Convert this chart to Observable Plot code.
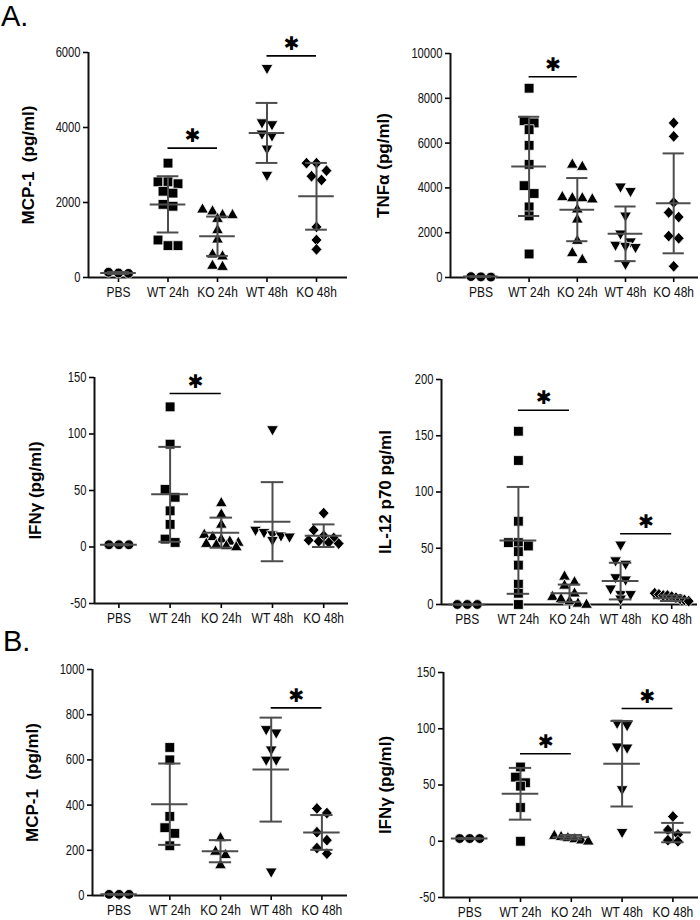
<!DOCTYPE html>
<html>
<head>
<meta charset="utf-8">
<script src="https://cdn.jsdelivr.net/npm/d3@7"></script>
<script src="https://cdn.jsdelivr.net/npm/@observablehq/plot@0.6"></script>
<style>
  html, body { margin: 0; padding: 0; background: #fff; }
  #root { position: relative; width: 700px; height: 920px; overflow: hidden; background: #fff; }
  #root svg { position: absolute; overflow: visible; }
  .tag { position: absolute; font-family: "Liberation Sans", Arial, sans-serif; font-size: 29px; line-height: 33px; color: #000; }
</style>
</head>
<body>
<div id="root">
  <div class="tag" style="left:1px;top:0px">A.</div>
  <div class="tag" style="left:3px;top:625px">B.</div>
</div>
<script>
// ---------- categories ----------
const groups = ["PBS", "WT 24h", "KO 24h", "WT 48h", "KO 48h"];

// ---------- A. MCP-1 (pg/ml) ----------
const mcp1A_label = "MCP-1  (pg/ml)";
const mcp1A_domain = [0, 6000];
const mcp1A_ticks = [0, 2000, 4000, 6000];
const mcp1A_values = [
  [140, 110, 120],
  [3050, 2550, 2550, 2500, 2300, 2250, 1950, 1900, 1000, 850, 850],
  [1850, 1800, 1700, 1700, 1600, 1300, 1050, 650, 600, 350, 320],
  [5550, 4100, 4050, 3800, 3750, 3400, 2700],
  [3050, 3050, 2850, 2700, 2600, 1350, 1000, 750]
];
const mcp1A_mean = [120, 1950, 1100, 3855, 2165];
const mcp1A_sd = [25, 750, 525, 800, 890];
const mcp1A_sig = [[1, 2, 3450], [3, 4, 5910]];

// ---------- A. TNFα (pg/ml) ----------
const tnfA_label = "TNFα (pg/ml)";
const tnfA_domain = [0, 10000];
const tnfA_ticks = [0, 2000, 4000, 6000, 8000, 10000];
const tnfA_values = [
  [40, 30, 20],
  [8450, 7000, 6900, 6600, 5900, 5050, 4100, 3750, 3150, 2750, 1050],
  [5100, 5000, 3650, 3600, 3600, 3550, 3100, 2650, 1700, 1150, 850],
  [4000, 3800, 2700, 1900, 1550, 1400, 1350, 1300, 550],
  [6900, 6300, 3350, 2900, 2700, 1850, 1750, 500]
];
const tnfA_mean = [40, 4960, 3030, 1950, 3310];
const tnfA_sd = [15, 2215, 1410, 1220, 2230];
const tnfA_sig = [[1, 2, 8960]];

// ---------- A. IFNγ (pg/ml) ----------
const ifnA_label = "IFNγ (pg/ml)";
const ifnA_domain = [-50, 150];
const ifnA_ticks = [-50, 0, 50, 100, 150];
const ifnA_values = [
  [2, 2, 2],
  [124, 91, 51, 44, 32, 20, 7, 4],
  [40, 30, 21, 12, 10, 8, 6, 5, 4, 3, 2, 1],
  [103, 14, 12, 10, 9, 8, 5],
  [30, 15, 10, 8, 6, 5, 4, 3]
];
const ifnA_mean = [2, 46.6, 12.7, 22.4, 10];
const ifnA_sd = [0.5, 42, 13.3, 35, 10];
const ifnA_sig = [[1, 2, 135.8]];

// ---------- A. IL-12 p70 pg/ml ----------
const il12A_label = "IL-12 p70 pg/ml";
const il12A_domain = [0, 200];
const il12A_ticks = [0, 50, 100, 150, 200];
const il12A_values = [
  [0, 0, 0],
  [154, 128, 74, 55, 55, 52, 47, 35, 18, 10, 0],
  [26, 21, 18, 11, 8, 6, 4, 2, 1],
  [52, 38, 35, 23, 21, 13, 8, 8, 4],
  [10, 9, 8, 8, 7, 6, 5, 4, 3]
];
const il12A_mean = [0, 57, 10, 20.8, 5.6];
const il12A_sd = [0, 47.5, 7.7, 16.3, 2.5];
const il12A_sig = [[1, 2, 172.7], [3, 4, 62.9]];

// ---------- B. MCP-1 (pg/ml) ----------
const mcp1B_label = "MCP-1  (pg/ml)";
const mcp1B_domain = [0, 1000];
const mcp1B_ticks = [0, 200, 400, 600, 800, 1000];
const mcp1B_values = [
  [5, 5, 5],
  [655, 600, 350, 300, 275, 220],
  [260, 200, 185, 140],
  [730, 715, 640, 595, 595, 100],
  [385, 365, 280, 245, 210, 185]
];
const mcp1B_mean = [5, 404, 196, 557, 279];
const mcp1B_sd = [2, 180, 49, 230, 77];
const mcp1B_sig = [[3, 4, 830]];

// ---------- B. IFNγ (pg/ml) ----------
const ifnB_label = "IFNγ (pg/ml)";
const ifnB_domain = [-50, 150];
const ifnB_ticks = [-50, 0, 50, 100, 150];
const ifnB_values = [
  [2.4, 2.4, 2.4],
  [66, 57, 52, 49, 30, 0],
  [6, 5, 4, 3, 2, 1],
  [104, 102, 83, 82, 45, 7],
  [22, 10, 6, 1, 0]
];
const ifnB_mean = [2.4, 42.2, 3.6, 68.9, 7.7];
const ifnB_sd = [0.5, 23, 2, 38, 8.6];
const ifnB_sig = [[1, 2, 77.8], [3, 4, 118]];

// ---------- layout (page pixel geometry, not data) ----------
const layout = [
  {left: 0,   top: 30,  height: 290, axisX: 88,  cat0: 118,   step: 49.5, right: 347, yTopPx: 52,  yBotPx: 277, labelX: 28},
  {left: 350, top: 30,  height: 290, axisX: 450, cat0: 480.4, step: 48.2, right: 698, yTopPx: 53,  yBotPx: 277, labelX: 383},
  {left: 0,   top: 330, height: 310, axisX: 94,  cat0: 118.4, step: 51.2, right: 348, yTopPx: 377, yBotPx: 603, labelX: 35},
  {left: 350, top: 330, height: 310, axisX: 441, cat0: 466.8, step: 51.1, right: 697, yTopPx: 379, yBotPx: 604, labelX: 385},
  {left: 0,   top: 640, height: 280, axisX: 92,  cat0: 118.6, step: 50.7, right: 347, yTopPx: 669, yBotPx: 895, labelX: 32},
  {left: 350, top: 640, height: 280, axisX: 443, cat0: 469.2, step: 50.8, right: 698, yTopPx: 672, yBotPx: 897, labelX: 385}
];

const panels = [
  {label: mcp1A_label, domain: mcp1A_domain, ticks: mcp1A_ticks, values: mcp1A_values, mean: mcp1A_mean, sd: mcp1A_sd, sig: mcp1A_sig},
  {label: tnfA_label,  domain: tnfA_domain,  ticks: tnfA_ticks,  values: tnfA_values,  mean: tnfA_mean,  sd: tnfA_sd,  sig: tnfA_sig},
  {label: ifnA_label,  domain: ifnA_domain,  ticks: ifnA_ticks,  values: ifnA_values,  mean: ifnA_mean,  sd: ifnA_sd,  sig: ifnA_sig},
  {label: il12A_label, domain: il12A_domain, ticks: il12A_ticks, values: il12A_values, mean: il12A_mean, sd: il12A_sd, sig: il12A_sig},
  {label: mcp1B_label, domain: mcp1B_domain, ticks: mcp1B_ticks, values: mcp1B_values, mean: mcp1B_mean, sd: mcp1B_sd, sig: mcp1B_sig},
  {label: ifnB_label,  domain: ifnB_domain,  ticks: ifnB_ticks,  values: ifnB_values,  mean: ifnB_mean,  sd: ifnB_sd,  sig: ifnB_sig}
];

// ---------- symbols ----------
const rad = size => Math.sqrt(size / Math.PI);
const symSquare = {draw(c, s) { const r = rad(s); c.rect(-r, -r, 2 * r, 2 * r); }};
const symTriUp = {draw(c, s) { const r = rad(s); c.moveTo(0, -1.1 * r); c.lineTo(1.2 * r, 1.0 * r); c.lineTo(-1.2 * r, 1.0 * r); c.closePath(); }};
const symTriDown = {draw(c, s) { const r = rad(s); c.moveTo(0, 1.1 * r); c.lineTo(1.2 * r, -1.0 * r); c.lineTo(-1.2 * r, -1.0 * r); c.closePath(); }};
const symDiamond = {draw(c, s) { const r = rad(s); c.moveTo(0, -1.2 * r); c.lineTo(1.1 * r, 0); c.lineTo(0, 1.2 * r); c.lineTo(-1.1 * r, 0); c.closePath(); }};
const shapes = ["circle", symSquare, symTriUp, symTriDown, symDiamond];

const TICKFONT = "'Liberation Sans', Arial, sans-serif";
const BOLD = "'Liberation Sans', Arial, sans-serif";
const DOT = 10;      // marker footprint in px
const R = 4.9;
const LINE = "#4d4d4d";

function makePanel(cfg, d) {
  const W = 350;
  const mL = cfg.axisX - cfg.left, mR = cfg.left + W - cfg.right;
  const mT = cfg.yTopPx - cfg.top, mB = cfg.top + cfg.height - cfg.yBotPx;
  const xmin = (cfg.axisX - cfg.cat0) / cfg.step, xmax = (cfg.right - cfg.cat0) / cfg.step;
  const [ymin, ymax] = d.domain;
  const pxPerUnit = (cfg.yBotPx - cfg.yTopPx) / (ymax - ymin);

  // deterministic column scatter: values close in height are spread side by side
  const points = [];
  d.values.forEach((vals, gi) => {
    const sorted = vals.slice().sort((a, b) => b - a);
    const rows = [];
    let cur = null;
    for (const v of sorted) {
      if (cur && (cur.start - v) * pxPerUnit < 0.8 * DOT) cur.items.push(v);
      else { cur = {start: v, items: [v]}; rows.push(cur); }
    }
    for (const row of rows) {
      const n = row.items.length;
      const sp = n > 1 ? Math.min(DOT, 34 / (n - 1)) : 0;
      row.items.forEach((v, k) => points.push({g: gi, v, x: gi + ((k - (n - 1) / 2) * sp) / cfg.step}));
    }
  });

  const stats = d.mean.map((m, i) => ({i, mean: m, sd: d.sd[i]}));

  const svg = Plot.plot({
    width: W,
    height: cfg.height,
    marginLeft: mL, marginRight: mR, marginTop: mT, marginBottom: mB,
    x: {domain: [xmin, xmax], axis: null},
    y: {domain: [ymin, ymax], axis: null},
    style: {background: "transparent", color: "#000", overflow: "visible"},
    marks: [
      Plot.axisY({ticks: d.ticks, tickSize: 5, tickPadding: 3, tickFormat: v => String(v), label: null,
                  fontSize: 14, fontFamily: TICKFONT, fill: "#111", strokeWidth: 1.6}),
      Plot.axisX({ticks: [0, 1, 2, 3, 4], tickSize: 5, tickPadding: 4, tickFormat: i => groups[i], label: null,
                  fontSize: 15, fontFamily: TICKFONT, fill: "#111", strokeWidth: 1.6}),
      Plot.ruleX([xmin], {y1: ymin, y2: ymax, strokeWidth: 2, stroke: "#111"}),
      Plot.ruleY([ymin], {x1: xmin, x2: xmax, strokeWidth: 2, stroke: "#111"}),
      ...groups.map((g, gi) => Plot.dot(points.filter(p => p.g === gi), {
        x: "x", y: "v", r: R, symbol: shapes[gi], fill: "#000", stroke: "#fff", strokeWidth: 0.8
      })),
      Plot.ruleY(stats, {y: "mean", x1: s => s.i - 0.36, x2: s => s.i + 0.36, stroke: LINE, strokeWidth: 2}),
      Plot.ruleX(stats, {x: "i", y1: s => s.mean - s.sd, y2: s => s.mean + s.sd, stroke: LINE, strokeWidth: 2}),
      Plot.ruleY(stats, {y: s => s.mean + s.sd, x1: s => s.i - 0.22, x2: s => s.i + 0.22, stroke: LINE, strokeWidth: 2}),
      Plot.ruleY(stats, {y: s => s.mean - s.sd, x1: s => s.i - 0.22, x2: s => s.i + 0.22, stroke: LINE, strokeWidth: 2}),
      Plot.ruleY(d.sig, {y: s => s[2], x1: s => s[0], x2: s => s[1], stroke: "#000", strokeWidth: 1.6}),
      Plot.text(d.sig, {x: s => (s[0] + s[1]) / 2, y: s => s[2], text: () => "✱", dy: -12,
                        fontSize: 19, fontFamily: "'DejaVu Sans', sans-serif", fill: "#000"}),
      Plot.text([d.label], {text: t => t, frameAnchor: "left", textAnchor: "middle", dx: cfg.labelX - cfg.axisX, rotate: -90,
                            fontSize: 17, fontWeight: "bold", fontFamily: BOLD, fill: "#000"})
    ]
  });
  svg.style.left = cfg.left + "px";
  svg.style.top = cfg.top + "px";
  return svg;
}

// narrow the tick labels (the reference uses a condensed face)
function condense(svg, factor) {
  svg.querySelectorAll('g[aria-label="x-axis tick label"] text, g[aria-label="y-axis tick label"] text').forEach(t => {
    const tr = t.getAttribute("transform");
    if (tr && tr.includes("translate")) {
      t.setAttribute("transform", tr + ` scale(${factor},1)`);
    } else {
      const w = t.getComputedTextLength();
      if (w > 0) {
        t.setAttribute("textLength", (w * factor).toFixed(2));
        t.setAttribute("lengthAdjust", "spacingAndGlyphs");
      }
    }
  });
}

const root = document.getElementById("root");
panels.forEach((d, k) => {
  const svg = makePanel(layout[k], d);
  root.appendChild(svg);
  condense(svg, 0.8);
});
</script>
</body>
</html>
